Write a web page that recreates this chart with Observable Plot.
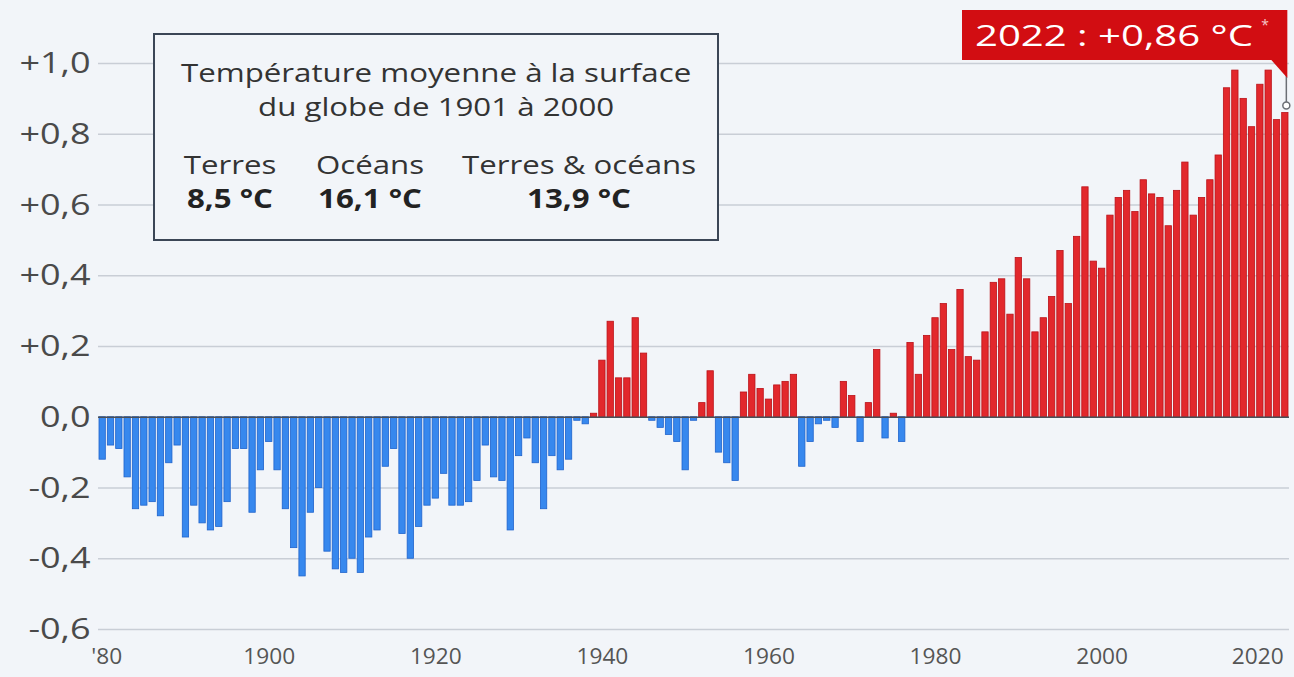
<!DOCTYPE html>
<html>
<head>
<meta charset="utf-8">
<script src="https://cdn.jsdelivr.net/npm/d3@7"></script>
<script src="https://cdn.jsdelivr.net/npm/@observablehq/plot@0.6"></script>
<style>
  html, body { margin: 0; padding: 0; background: #f2f5f9; }
  #wrap { position: relative; width: 1294px; height: 677px; overflow: hidden; font-family: "Open Sans", sans-serif; }
  #info { position: absolute; left: 153px; top: 33px; width: 562px; height: 204px; border: 2px solid #3b4656; background: #f2f5f9; color: #333; }
  #info .title { position: absolute; left: 0; top: 20px; width: 100%; text-align: center; font-size: 25px; line-height: 34px; white-space: nowrap; }
  #info .col { position: absolute; width: 0; text-align: center; white-space: nowrap; font-size: 26px; line-height: 34px; }
  #info .s { display: inline-block; transform: scaleX(1.2); transform-origin: center; }
  #info .title .s { transform: scaleX(1.25); }
  #info .col .s { transform: translateX(-50%) scaleX(1.2); }
  #info b { font-weight: 700; color: #222; }
</style>
</head>
<body>
<div id="wrap"></div>
<script>
const startYear = 1880;
const values = [
  -0.12, -0.08, -0.09, -0.17, -0.26, -0.25, -0.24, -0.28, -0.13, -0.08,
  -0.34, -0.25, -0.30, -0.32, -0.31, -0.24, -0.09, -0.09, -0.27, -0.15,
  -0.07, -0.15, -0.26, -0.37, -0.45, -0.27, -0.20, -0.38, -0.43, -0.44,
  -0.40, -0.44, -0.34, -0.32, -0.14, -0.09, -0.33, -0.40, -0.31, -0.25,
  -0.23, -0.16, -0.25, -0.25, -0.24, -0.18, -0.08, -0.17, -0.18, -0.32,
  -0.11, -0.06, -0.13, -0.26, -0.11, -0.15, -0.12, -0.01, -0.02, 0.01,
  0.16, 0.27, 0.11, 0.11, 0.28, 0.18, -0.01, -0.03, -0.05, -0.07,
  -0.15, -0.01, 0.04, 0.13, -0.10, -0.13, -0.18, 0.07, 0.12, 0.08,
  0.05, 0.09, 0.10, 0.12, -0.14, -0.07, -0.02, -0.01, -0.03, 0.10,
  0.06, -0.07, 0.04, 0.19, -0.06, 0.01, -0.07, 0.21, 0.12, 0.23,
  0.28, 0.32, 0.19, 0.36, 0.17, 0.16, 0.24, 0.38, 0.39, 0.29,
  0.45, 0.39, 0.24, 0.28, 0.34, 0.47, 0.32, 0.51, 0.65, 0.44,
  0.42, 0.57, 0.62, 0.64, 0.58, 0.67, 0.63, 0.62, 0.54, 0.64,
  0.72, 0.57, 0.62, 0.67, 0.74, 0.93, 0.98, 0.90, 0.82, 0.94,
  0.98, 0.84, 0.86
];
const years = values.map((_, i) => startYear + i);
const yTicks = [-0.6, -0.4, -0.2, 0, 0.2, 0.4, 0.6, 0.8, 1.0];
const xTicks = [1880, 1900, 1920, 1940, 1960, 1980, 2000, 2020];
const annotationText = "2022 : +0,86 °C";
const infoTitle = ["Température moyenne à la surface", "du globe de 1901 à 2000"];
const infoLabels = ["Terres", "Océans", "Terres & océans"];
const infoValues = ["8,5 °C", "16,1 °C", "13,9 °C"];

const data = years.map((year, i) => ({year, value: values[i]}));
const fmtY = d => (d > 0 ? "+" : "") + d.toFixed(1).replace(".", ",");

const chart = Plot.plot({
  width: 1294,
  height: 677,
  marginLeft: 98,
  marginRight: 5,
  marginTop: 63,
  marginBottom: 48,
  style: {background: "transparent", fontFamily: "Open Sans, sans-serif", color: "#555"},
  x: {domain: [1879.5, 2022.5]},
  y: {domain: [-0.6, 1.0]},
  marks: [
    Plot.gridY(yTicks, {stroke: "#c9ced6", strokeOpacity: 1, strokeWidth: 1.5}),
    Plot.rectY(data, {
      x1: d => d.year - 0.5, x2: d => d.year + 0.5, y: "value",
      insetLeft: 1.0, insetRight: 1.0,
      fill: d => d.value >= 0 ? "#e2282c" : "#3788ee",
      stroke: d => d.value >= 0 ? "#bb1118" : "#1f63cc",
      strokeWidth: 0.8
    }),
    Plot.ruleY([0], {stroke: "#4a4f57", strokeWidth: 1.5}),
    Plot.axisY(yTicks, {tickSize: 0, tickPadding: 8, tickFormat: fmtY, fontSize: 30, fill: "#4a4a4a", label: null}),
    Plot.axisX(xTicks, {tickSize: 0, tickPadding: 20, tickFormat: d => d === 1880 ? "'80" : String(d), fontSize: 21, fill: "#555", label: null})
  ]
});

const wrap = document.getElementById("wrap");
wrap.appendChild(chart);

function stretch(sel, k) {
  sel.each(function() {
    const w = this.getComputedTextLength();
    this.setAttribute("textLength", w * k);
    this.setAttribute("lengthAdjust", "spacingAndGlyphs");
  });
}
const svg = d3.select(chart);
stretch(svg.selectAll('g[aria-label="y-axis tick label"] text'), 1.2);
const xLabels = svg.selectAll('g[aria-label="x-axis tick label"] text');
stretch(xLabels, 1.08);
// keep the end labels inside the frame, as in the reference
const xl = xLabels.nodes();
if (xl.length) { xl[0].setAttribute("dx", 4); xl[xl.length - 1].setAttribute("dx", -11); }

// annotation for last value, positioned via the chart's scales
const sx = chart.scale("x"), sy = chart.scale("y");
const last = data[data.length - 1];
const px = sx.apply(last.year) + 1.5;
const py = sy.apply(last.value) - 7;
const boxRight = px + 1, boxLeft = 962, boxTop = 10, boxBottom = 60;
const g = svg.append("g").attr("text-anchor", "start").attr("font-family", "Open Sans, sans-serif");
g.append("line").attr("x1", px).attr("x2", px).attr("y1", boxBottom + 15).attr("y2", py)
  .attr("stroke", "#6b6f75").attr("stroke-width", 1.5);
g.append("path")
  .attr("d", `M${boxLeft},${boxTop}H${boxRight}V${boxBottom + 18}L${boxRight - 16},${boxBottom}H${boxLeft}Z`)
  .attr("fill", "#d20d12");
const at = g.append("text").attr("x", boxLeft + 13).attr("y", boxTop + 36)
  .attr("fill", "white").attr("font-size", 30).text(annotationText);
at.attr("textLength", 278).attr("lengthAdjust", "spacingAndGlyphs");
g.append("text").attr("x", boxRight - 26).attr("y", boxTop + 20)
  .attr("fill", "#f4c9c9").attr("font-size", 14).text("*");
g.append("circle").attr("cx", px).attr("cy", py).attr("r", 3.5)
  .attr("fill", "white").attr("stroke", "#6b6f75").attr("stroke-width", 1.5);

// info box
const info = document.createElement("div");
info.id = "info";
const colCenters = [75, 215, 424];
info.innerHTML =
  `<div class="title"><span class="s">${infoTitle.join("<br>")}</span></div>` +
  infoLabels.map((l, i) => `<div class="col" style="left:${colCenters[i]}px;top:112px"><span class="s">${l}<br><b>${infoValues[i]}</b></span></div>`).join("");
wrap.appendChild(info);
</script>
</body>
</html>
